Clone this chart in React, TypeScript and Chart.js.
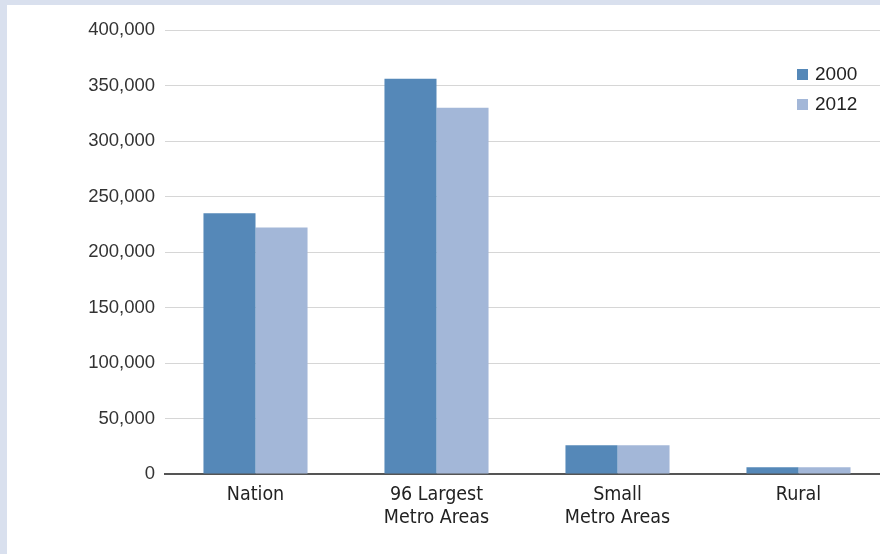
import React, { useEffect, useRef } from "react";
import { Chart, registerables } from "chart.js";

Chart.register(...registerables);

const categories: (string | string[])[] = ["Nation", ["96 Largest", "Metro Areas"], ["Small", "Metro Areas"], "Rural"];
const series2000 = [235000, 356000, 26000, 6000];
const series2012 = [222000, 330000, 26000, 6000];
const seriesLabels = ["2000", "2012"];
const seriesColors = ["#5588b8", "#a3b7d8"];

const legendPlugin = {
  id: "customLegend",
  afterDraw(chart: any) {
    const ctx = chart.ctx;
    ctx.save();
    chart.data.datasets.forEach((ds: any, i: number) => {
      const x = 790;
      const y = 69 + i * 30;
      ctx.fillStyle = ds.backgroundColor;
      ctx.fillRect(x, y - 5, 11, 11);
      ctx.fillStyle = "#222";
      ctx.font = "19px 'Liberation Sans', Arial, sans-serif";
      ctx.textBaseline = "middle";
      ctx.textAlign = "left";
      ctx.fillText(ds.label, x + 18, y + 1);
    });
    ctx.restore();
  },
};

export default function App() {
  const ref = useRef<HTMLCanvasElement>(null);
  useEffect(() => {
    if (!ref.current) return;
    const chart = new Chart(ref.current, {
      type: "bar",
      data: {
        labels: categories as any,
        datasets: [
          { label: seriesLabels[0], data: series2000, backgroundColor: seriesColors[0] },
          { label: seriesLabels[1], data: series2012, backgroundColor: seriesColors[1] },
        ],
      },
      options: {
        animation: false,
        responsive: false,
        maintainAspectRatio: false,
        layout: { padding: { top: 25, right: 0, bottom: 0, left: 0 } },
        plugins: { legend: { display: false }, tooltip: { enabled: false } },
        datasets: { bar: { barPercentage: 1, categoryPercentage: 0.575 } },
        scales: {
          x: {
            grid: { display: false, drawTicks: false },
            border: { display: true, color: "#555", width: 2 },
            ticks: {
              color: "#222",
              padding: 9,
              font: { family: "'Liberation Sans Narrow', 'DejaVu Sans Condensed', sans-serif", size: 19.5, lineHeight: 1.18 },
            },
            afterFit: (s: any) => { s.height = 80; },
          },
          y: {
            min: 0,
            max: 400000,
            ticks: {
              stepSize: 50000,
              color: "#333",
              padding: 10,
              font: { family: "'Liberation Sans', Arial, sans-serif", size: 18.5 },
              callback: (v: any) => Number(v).toLocaleString("en-US"),
            },
            grid: { color: "#d6d6d6", lineWidth: 1, drawTicks: false },
            border: { display: false },
            afterFit: (s: any) => { s.width = 158; },
          },
        },
      },
      plugins: [legendPlugin],
    });
    return () => chart.destroy();
  }, []);
  return (
    <div style={{ position: "fixed", left: 0, top: 0, width: 880, height: 554, background: "#d9e0ee", overflow: "hidden" }}>
      <div style={{ position: "absolute", left: 7, top: 5, width: 873, height: 549, background: "#fff", overflow: "hidden" }}>
        <canvas ref={ref} width={882} height={549} style={{ display: "block" }} />
      </div>
    </div>
  );
}
